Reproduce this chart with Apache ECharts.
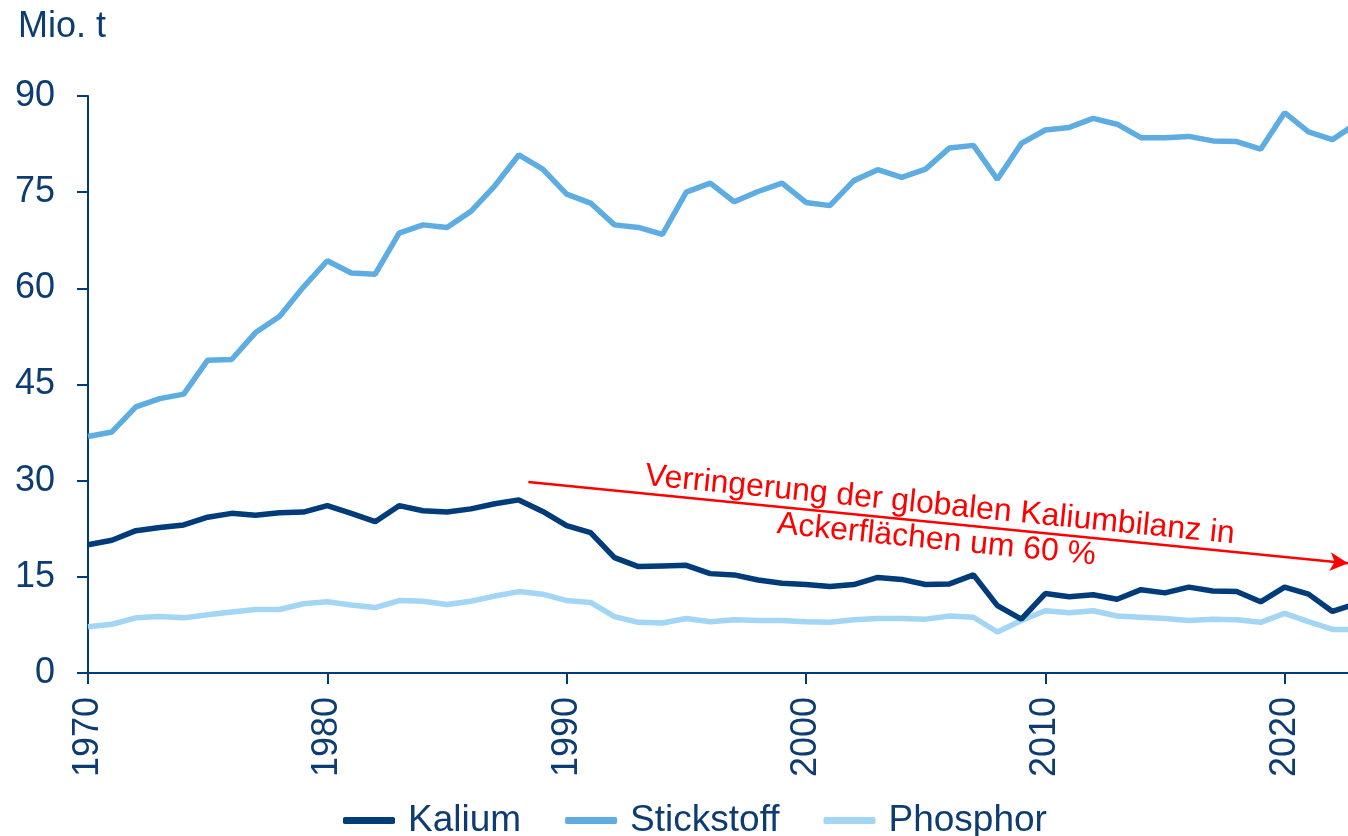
<!DOCTYPE html>
<html>
<head>
<meta charset="utf-8">
<title>Kalium, Stickstoff, Phosphor</title>
<script src="https://cdn.jsdelivr.net/npm/echarts@6/dist/echarts.min.js"></script>
<style>
	html, body { margin: 0; padding: 0; background: #fff; }
	#chart { width: 1348px; height: 836px; }
</style>
</head>
<body>
<div id="chart"></div>
<script>
// Jahre 1970-2023 (2023 wird am rechten Rand abgeschnitten)
const years = [];
for (let y = 1970; y <= 2023; y++) years.push(y);

const kalium = [
	20.0, 20.7, 22.2, 22.7, 23.1, 24.3, 24.9, 24.6, 25.0, 25.1,
	26.1, 24.9, 23.6, 26.1, 25.3, 25.1, 25.6, 26.4, 27.0, 25.2,
	23.0, 21.9, 18.0, 16.6, 16.7, 16.8, 15.5, 15.3, 14.5, 14.0,
	13.8, 13.5, 13.8, 14.9, 14.6, 13.8, 13.9, 15.3, 10.5, 8.4,
	12.4, 11.9, 12.2, 11.5, 13.0, 12.5, 13.4, 12.8, 12.7, 11.1,
	13.4, 12.3, 9.6, 10.8
];
const stickstoff = [
	36.9, 37.6, 41.5, 42.8, 43.5, 48.8, 48.9, 53.1, 55.6, 60.2,
	64.3, 62.4, 62.2, 68.6, 69.9, 69.5, 72.0, 76.0, 80.8, 78.6,
	74.7, 73.3, 69.9, 69.5, 68.4, 75.0, 76.4, 73.5, 75.1, 76.4,
	73.4, 72.9, 76.8, 78.5, 77.3, 78.6, 81.9, 82.3, 77.0, 82.6,
	84.7, 85.1, 86.5, 85.6, 83.5, 83.5, 83.7, 83.0, 82.9, 81.7,
	87.4, 84.4, 83.2, 85.7
];
const phosphor = [
	7.2, 7.6, 8.6, 8.8, 8.6, 9.1, 9.5, 9.9, 9.9, 10.8,
	11.1, 10.6, 10.2, 11.3, 11.2, 10.7, 11.2, 12.0, 12.7, 12.3,
	11.3, 11.0, 8.8, 7.9, 7.8, 8.5, 8.0, 8.3, 8.2, 8.2,
	8.0, 7.9, 8.3, 8.5, 8.5, 8.4, 8.9, 8.7, 6.4, 8.2,
	9.7, 9.4, 9.7, 8.9, 8.7, 8.5, 8.2, 8.4, 8.3, 7.9,
	9.3, 8.0, 6.8, 6.8
];
const xTicks = [1970, 1980, 1990, 2000, 2010, 2020];
// Pfeil der Anmerkung: [Jahr, Wert] am Anfang und Ende
const arrowStart = [1988.4, 29.8];
const arrowEnd = [2022.65, 17.1];
const noteText = 'Verringerung der globalen Kaliumbilanz in\nAckerflächen um 60 %';

const navy = '#003b7a';
const textColor = '#0d3c73';
const font = "'Liberation Sans', Arial, sans-serif";

function pairs(values) {
	return years.map((y, i) => [y, values[i]]);
}

const chart = echarts.init(document.getElementById('chart'), null, { renderer: 'canvas' });

chart.setOption({
	animation: false,
	textStyle: { fontFamily: font },
	title: {
		text: 'Mio. t',
		left: 13,
		top: 4,
		textStyle: { fontFamily: font, fontSize: 36, fontWeight: 'normal', color: textColor }
	},
	grid: { left: 88, right: 0, top: 96, bottom: 163, containLabel: false },
	legend: {
		left: 338,
		top: 797,
		itemWidth: 52,
		itemHeight: 7,
		itemGap: 44,
		icon: 'roundRect',
		textStyle: { fontFamily: font, fontSize: 37, color: textColor, padding: [0, 0, 0, 8] },
		data: ['Kalium', 'Stickstoff', 'Phosphor']
	},
	xAxis: {
		type: 'value',
		min: 1970,
		max: 2022.65,
		interval: 10,
		splitLine: { show: false },
		axisLine: { lineStyle: { color: navy, width: 2 } },
		axisTick: { show: true, length: 11, lineStyle: { color: navy, width: 2 }, customValues: xTicks },
		axisLabel: {
			rotate: 90,
			margin: 24,
			fontSize: 36,
			color: textColor,
			fontFamily: font,
			customValues: xTicks,
			formatter: (v) => String(v)
		}
	},
	yAxis: {
		type: 'value',
		min: 0,
		max: 90,
		interval: 15,
		splitLine: { show: false },
		axisLine: { show: true, lineStyle: { color: navy, width: 2 } },
		axisTick: { show: true, length: 11, lineStyle: { color: navy, width: 2 } },
		axisLabel: { margin: 33, fontSize: 36, color: textColor, fontFamily: font }
	},
	series: [
		{
			name: 'Kalium',
			type: 'line',
			data: pairs(kalium),
			symbol: 'none',
			z: 4,
			color: navy,
			lineStyle: { width: 5.5, color: navy },
			markLine: {
				silent: true,
				symbol: ['none', 'arrow'],
				symbolSize: [14, 18],
				lineStyle: { color: '#ff0000', width: 2.5, type: 'solid' },
				label: {
					show: true,
					position: 'middle',
					formatter: noteText,
					color: '#ff0000',
					fontSize: 32,
					fontFamily: font,
					lineHeight: 35,
					align: 'center',
					verticalAlign: 'middle',
					distance: 0
				},
				data: [[{ coord: arrowStart }, { coord: arrowEnd }]]
			}
		},
		{
			name: 'Stickstoff',
			type: 'line',
			data: pairs(stickstoff),
			symbol: 'none',
			z: 3,
			color: '#5dade2',
			lineStyle: { width: 5.5, color: '#5dade2' }
		},
		{
			name: 'Phosphor',
			type: 'line',
			data: pairs(phosphor),
			symbol: 'none',
			z: 2,
			color: '#a3d5f5',
			lineStyle: { width: 5.5, color: '#a3d5f5' }
		}
	]
});
</script>
</body>
</html>
